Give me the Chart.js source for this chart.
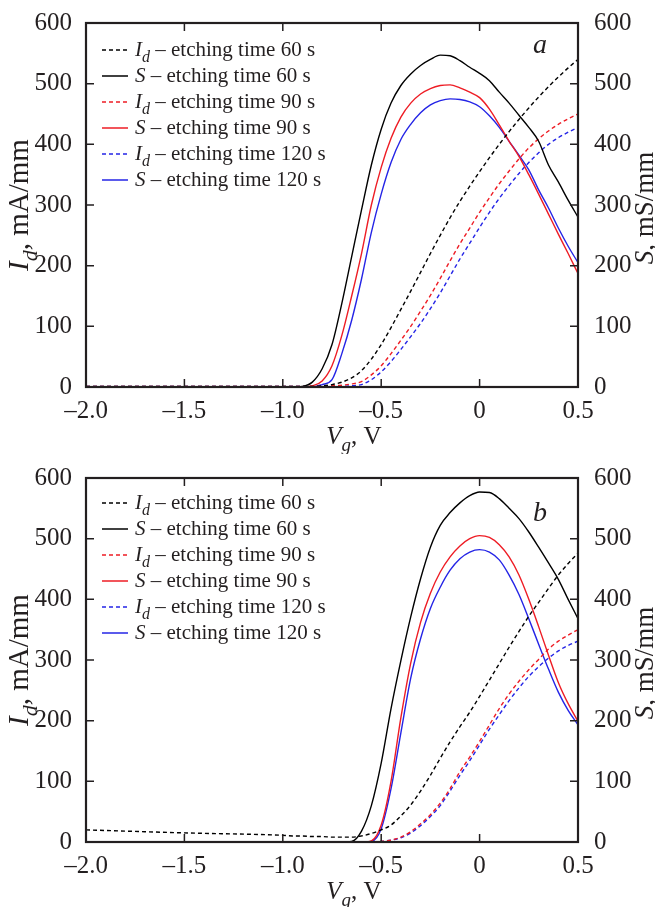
<!DOCTYPE html>
<html>
<head>
<meta charset="utf-8">
<script src="https://cdn.jsdelivr.net/npm/chart.js@4.4.0/dist/chart.umd.min.js"></script>
<style>
  body { margin: 0; background: #fff; }
  .panel { position: relative; width: 655px; }
  canvas { display: block; }
</style>
</head>
<body>
<div class="panel"><canvas id="chartA" width="655" height="454"></canvas></div>
<div class="panel"><canvas id="chartB" width="655" height="453"></canvas></div>
<script>
'use strict';

// gate voltage, V (shared by both panels)
const vg = [-2.0, -1.5, -1.0, -0.95, -0.9, -0.85, -0.8, -0.75, -0.7, -0.65, -0.6, -0.55, -0.5,
  -0.45, -0.4, -0.35, -0.3, -0.25, -0.2, -0.15, -0.1, -0.05, 0, 0.05, 0.1, 0.15, 0.2,
  0.25, 0.3, 0.35, 0.4, 0.45, 0.5];

// panel a: Id (mA/mm) and S (mS/mm)
const idA60 = [1, 1, 1, 1, 1, 1, 2, 4, 8, 15, 27, 46, 70, 98, 128, 158, 189, 220, 250, 279, 306, 331, 355, 378, 400, 421, 441, 460, 478, 495, 511, 526, 540];
const sA60 = [0, 0, 0, 0, 1, 8, 30, 70, 138, 215, 292, 366, 425, 468, 497, 516, 530, 540, 547, 546, 538, 527, 517, 505, 486, 468, 448, 428, 405, 366, 338, 308, 280];
const idA90 = [1, 1, 1, 1, 1, 1, 1, 2, 3, 5, 9, 20, 35, 55, 77, 100, 125, 151, 179, 208, 236, 262, 288, 312, 335, 356, 376, 394, 409, 422, 433, 442, 450];
const sA90 = [0, 0, 0, 0, 0, 2, 10, 35, 85, 150, 220, 300, 362, 410, 445, 468, 483, 492, 497, 498, 493, 486, 477, 458, 432, 405, 380, 350, 318, 285, 252, 220, 187];
const idA120 = [1, 1, 1, 1, 1, 1, 1, 1, 1, 2, 4, 12, 25, 42, 62, 83, 105, 129, 155, 183, 211, 237, 263, 288, 311, 332, 352, 370, 386, 400, 411, 420, 428];
const sA120 = [0, 0, 0, 0, 0, 0, 4, 12, 55, 110, 178, 255, 318, 370, 408, 433, 452, 465, 472, 475, 474, 470, 462, 447, 428, 405, 382, 358, 325, 295, 262, 232, 205];

// panel b
const idB60 = [20, 15, 11, 10, 10, 9, 9, 8, 8, 8, 10, 14, 20, 28, 43, 61, 84, 110, 138, 165, 190, 214, 240, 267, 294, 321, 347, 372, 395, 418, 440, 459, 476];
const sB60 = [0, 0, 0, 0, 0, 0, 0, 0, 0, 1, 18, 60, 130, 220, 299, 371, 434, 486, 522, 543, 559, 571, 577, 576, 566, 550, 533, 511, 486, 460, 433, 400, 368];
const idB90 = [0, 0, 0, 0, 0, 0, 0, 0, 0, 0, 0, 0, 1, 3, 8, 17, 30, 45, 64, 88, 116, 140, 166, 193, 220, 244, 265, 284, 301, 318, 331, 341, 350];
const sB90 = [0, 0, 0, 0, 0, 0, 0, 0, 0, 0, 0, 2, 28, 100, 205, 295, 362, 410, 445, 470, 488, 500, 505, 502, 490, 470, 440, 400, 355, 308, 263, 228, 199];
const idB120 = [0, 0, 0, 0, 0, 0, 0, 0, 0, 0, 0, 0, 1, 3, 7, 15, 27, 42, 60, 84, 110, 134, 160, 186, 210, 233, 254, 273, 289, 303, 315, 324, 331];
const sB120 = [0, 0, 0, 0, 0, 0, 0, 0, 0, 0, 0, 1, 22, 88, 180, 270, 335, 385, 420, 448, 467, 478, 482, 478, 465, 440, 408, 368, 326, 285, 247, 217, 193];

const etchTimes = ['60', '90', '120'];
const colors = ['#000000', '#ee1c24', '#2424e6'];
const xTicks = [-2.0, -1.5, -1.0, -0.5, 0, 0.5];

const FONT = '"Liberation Serif", "Times New Roman", serif';
const TEXT = '#231f20';

function fontFor(p, size) {
    return (p.it ? 'italic ' : '') + Math.round(p.sub ? size * 0.75 : size) + 'px ' + FONT;
}

function richWidth(ctx, parts, size) {
    let w = 0;
    for (const p of parts) {
        ctx.font = fontFor(p, size);
        w += ctx.measureText(p.t).width;
    }
    return w;
}

// draw mixed italic / subscript text on one baseline
function drawRich(ctx, parts, x, y, size, align) {
    let cx = align === 'center' ? x - richWidth(ctx, parts, size) / 2 : x;
    ctx.textAlign = 'left';
    ctx.textBaseline = 'alphabetic';
    for (const p of parts) {
        ctx.font = fontFor(p, size);
        ctx.fillText(p.t, cx, y + (p.sub ? size * 0.3 : 0));
        cx += ctx.measureText(p.t).width;
    }
}

const symbolParts = {
    Id: [{ t: 'I', it: true }, { t: 'd', it: true, sub: true }],
    S: [{ t: 'S', it: true }]
};

// frame, inward ticks, rich axis titles, legend and panel letter
const decor = {
    id: 'decor',
    afterDraw(chart, args, o) {
        const { ctx, chartArea: a, scales } = chart;
        ctx.save();

        // inward tick marks
        ctx.strokeStyle = '#231f20';
        ctx.lineWidth = 1.5;
        ctx.beginPath();
        scales.x.ticks.forEach(t => {
            if (t.value <= scales.x.min || t.value >= scales.x.max) return;
            const px = scales.x.getPixelForValue(t.value);
            ctx.moveTo(px, a.bottom); ctx.lineTo(px, a.bottom - 8);
            ctx.moveTo(px, a.top); ctx.lineTo(px, a.top + 8);
        });
        scales.y.ticks.forEach(t => {
            if (t.value <= scales.y.min || t.value >= scales.y.max) return;
            const py = scales.y.getPixelForValue(t.value);
            ctx.moveTo(a.left, py); ctx.lineTo(a.left + 8, py);
        });
        scales.y2.ticks.forEach(t => {
            if (t.value <= scales.y2.min || t.value >= scales.y2.max) return;
            const py = scales.y2.getPixelForValue(t.value);
            ctx.moveTo(a.right, py); ctx.lineTo(a.right - 8, py);
        });
        ctx.stroke();

        // frame
        ctx.lineWidth = 2.2;
        ctx.strokeRect(a.left, a.top, a.right - a.left, a.bottom - a.top);

        ctx.fillStyle = TEXT;
        const midY = (a.top + a.bottom) / 2;

        // left title
        ctx.save();
        ctx.translate(28, midY);
        ctx.rotate(-Math.PI / 2);
        drawRich(ctx, [{ t: 'I', it: true }, { t: 'd', it: true, sub: true }, { t: ', mA/mm' }], 0, 0, 29, 'center');
        ctx.restore();

        // right title
        ctx.save();
        ctx.translate(653, midY + 3);
        ctx.rotate(-Math.PI / 2);
        drawRich(ctx, [{ t: 'S', it: true }, { t: ', mS/mm' }], 0, 0, 27, 'center');
        ctx.restore();

        // bottom title
        drawRich(ctx, [{ t: 'V', it: true }, { t: 'g', it: true, sub: true }, { t: ', V' }], 354, a.bottom + 56.5, 25, 'center');

        // legend
        chart.data.datasets.forEach((ds, i) => {
            const cy = a.top + o.legendTop + 26 * i;
            ctx.save();
            ctx.strokeStyle = ds.borderColor;
            ctx.lineWidth = 1.5;
            ctx.setLineDash(ds.borderDash || []);
            ctx.beginPath();
            ctx.moveTo(102, cy);
            ctx.lineTo(128, cy);
            ctx.stroke();
            ctx.restore();
            const parts = symbolParts[ds.symbol].concat([{ t: ' \u2013 etching time ' + ds.time + ' s' }]);
            drawRich(ctx, parts, 135, cy + 6, 21, 'left');
        });

        // panel letter
        ctx.font = 'italic 28px ' + FONT;
        ctx.textAlign = 'center';
        ctx.textBaseline = 'alphabetic';
        ctx.fillText(o.letter, 540, a.top + o.letterY);

        ctx.restore();
    }
};

function makeDatasets(ids, ss) {
    const out = [];
    etchTimes.forEach((time, k) => {
        out.push({
            label: 'Id \u2013 etching time ' + time + ' s',
            symbol: 'Id', time: time,
            data: vg.map((x, i) => ({ x: x, y: ids[k][i] })),
            borderColor: colors[k],
            borderDash: [4, 3],
            yAxisID: 'y'
        });
        out.push({
            label: 'S \u2013 etching time ' + time + ' s',
            symbol: 'S', time: time,
            data: vg.map((x, i) => ({ x: x, y: ss[k][i] })),
            borderColor: colors[k],
            yAxisID: 'y2'
        });
    });
    return out;
}

function makePanel(canvasId, ids, ss, letter, top, bottomSpace, legendTop, letterY) {
    const yFont = { family: FONT, size: 25 };
    const xFont = { family: FONT, size: 25 };
    const yAxis = (pos, width, pad) => ({
        type: 'linear',
        position: pos,
        min: 0, max: 600,
        ticks: { stepSize: 100, font: yFont, color: TEXT, padding: pad },
        grid: { display: false },
        border: { display: false },
        afterFit: s => { s.width = width; }
    });
    return new Chart(document.getElementById(canvasId), {
        type: 'line',
        data: { datasets: makeDatasets(ids, ss) },
        options: {
            responsive: false,
            animation: false,
            layout: { padding: { top: top, bottom: 0, left: 0, right: 0 } },
            elements: {
                point: { radius: 0 },
                line: { borderWidth: 1.4, cubicInterpolationMode: 'monotone', fill: false }
            },
            scales: {
                x: {
                    type: 'linear',
                    min: -2.0, max: 0.5,
                    afterBuildTicks: s => { s.ticks = xTicks.map(v => ({ value: v })); },
                    ticks: {
                        font: xFont, color: TEXT, padding: 1,
                        callback: v => v === 0 ? '0' : (v < 0 ? '\u2013' : '') + Math.abs(v).toFixed(1)
                    },
                    grid: { display: false },
                    border: { display: false },
                    afterFit: s => { s.height = bottomSpace; }
                },
                y: yAxis('left', 86, 6),
                y2: yAxis('right', 77, 8)
            },
            plugins: {
                legend: { display: false },
                tooltip: { enabled: false },
                decor: { letter: letter, legendTop: legendTop, letterY: letterY }
            }
        },
        plugins: [decor]
    });
}

makePanel('chartA', [idA60, idA90, idA120], [sA60, sA90, sA120], 'a', 23, 67, 27, 30);
makePanel('chartB', [idB60, idB90, idB120], [sB60, sB90, sB120], 'b', 24, 65, 25, 43);
</script>
</body>
</html>
